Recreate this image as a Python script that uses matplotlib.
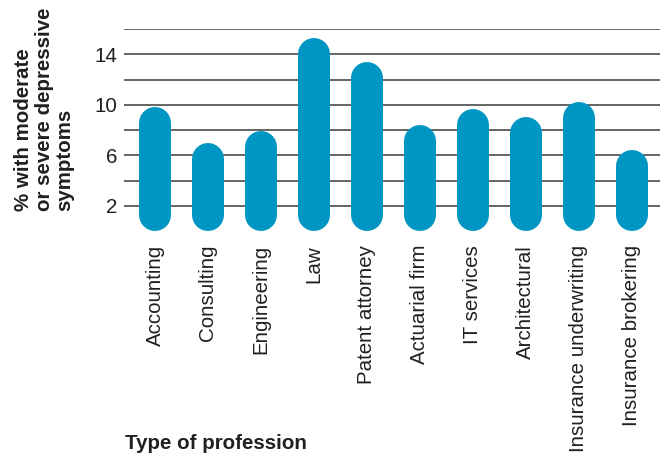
import numpy as np
import matplotlib.pyplot as plt

plt.rcParams['font.family'] = ['Liberation Sans', 'DejaVu Sans']

professions = ['Accounting', 'Consulting', 'Engineering', 'Law', 'Patent attorney',
               'Actuarial firm', 'IT services', 'Architectural',
               'Insurance underwriting', 'Insurance brokering']
values = [9.8, 7.0, 7.9, 15.3, 13.4, 8.4, 9.7, 9.0, 10.2, 6.4]
grid_levels = [2, 4, 6, 8, 10, 12, 14, 16]
tick_levels = [2, 6, 10, 14]

BLUE = '#0096C4'
TXT = '#231F20'
FS = 14.8

fig = plt.figure(figsize=(6.7, 4.54), dpi=100)
ax = fig.add_axes([124/670, (454-231)/454, (660-124)/670, (231-29)/454])

x = np.arange(len(professions))
ax.set_xlim(-0.585, 9.53)
ax.set_ylim(0, 16)

for g in grid_levels:
    ax.axhline(g, color='#3a3a3a', lw=1.1, zorder=1)

# bars as thick lines with round caps
bar_px = 32
lw_pt = bar_px * 72 / fig.dpi
r = (bar_px / 2) / (ax.get_position().height * 454) * 16  # half width in data units
for xi, v in zip(x, values):
    ax.plot([xi, xi], [r, v - r], color=BLUE, lw=lw_pt, solid_capstyle='round', zorder=2)

ax.set_yticks(tick_levels)
ax.set_yticklabels([str(t) for t in tick_levels], fontsize=FS, color=TXT)
ax.set_xticks(x)
ax.set_xticklabels(professions, rotation=90, fontsize=FS, color=TXT, va='top')
ax.tick_params(length=0)
ax.tick_params(axis='y', pad=5)
ax.tick_params(axis='x', pad=10)
for s in ax.spines.values():
    s.set_visible(False)

fig.text(14/670, (454-211)/454, '% with moderate\nor severe depressive\nsymptoms', rotation=90,
         fontsize=FS, fontweight='bold', color=TXT, ha='left', va='bottom',
         multialignment='left', linespacing=1.1)
fig.text(125/670, 1/454, 'Type of profession', fontsize=FS, fontweight='bold',
         color=TXT, ha='left', va='bottom')

fig.savefig('out.png', dpi=100)
